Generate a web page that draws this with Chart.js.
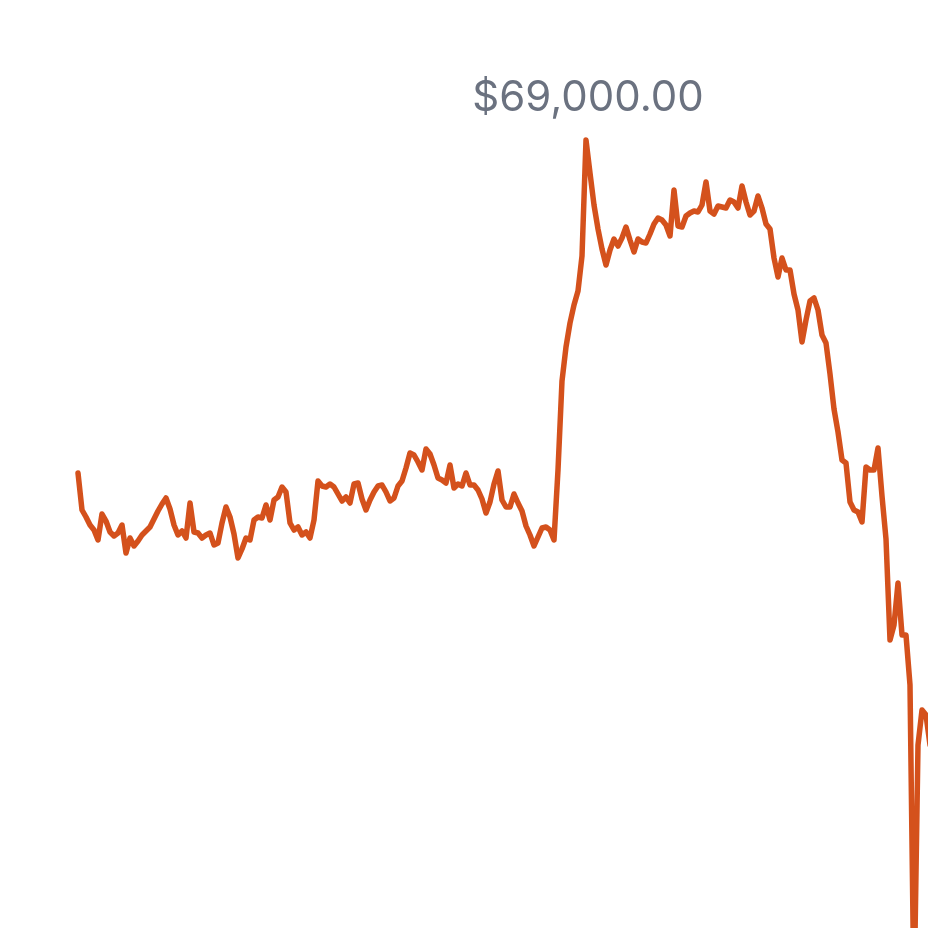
<!DOCTYPE html>
<html>
<head>
<meta charset="utf-8">
<script src="https://cdn.jsdelivr.net/npm/chart.js@4"></script>
<style>
  html, body { margin: 0; padding: 0; background: #fff; }
  #kutu { width: 928px; height: 928px; }
</style>
</head>
<body>
<div id="kutu"><canvas id="fiyatGrafik"></canvas></div>
<script>
// ============================================
// DATA — daily closing price (USD)
// ============================================
const PRICES = [
  49020, 46800, 46380, 45900, 45600, 45000, 46560, 46140, 45480, 45240,
  45420, 45900, 44220, 45120, 44640, 44940, 45300, 45540, 45780, 46260,
  46740, 47160, 47520, 46860, 45900, 45300, 45540, 45120, 47220, 45480,
  45420, 45120, 45300, 45420, 44700, 44820, 46020, 46980, 46380, 45360,
  43920, 44460, 45120, 45000, 46200, 46380, 46320, 47100, 46200, 47400,
  47580, 48180, 47880, 46020, 45600, 45780, 45300, 45480, 45120, 46200,
  48540, 48240, 48180, 48360, 48180, 47760, 47340, 47580, 47220, 48360,
  48420, 47460, 46800, 47400, 47880, 48240, 48300, 47880, 47340, 47520,
  48240, 48540, 49320, 50220, 50100, 49680, 49200, 50460, 50160, 49500,
  48720, 48600, 48420, 49500, 48120, 48360, 48240, 49020, 48300, 48300,
  48000, 47460, 46620, 47280, 48360, 49140, 47400, 46980, 46980, 47760,
  47220, 46740, 45840, 45300, 44640, 45180, 45720, 45780, 45600, 45000,
  49200, 54540, 56580, 58020, 59100, 59940, 62040, 69000, 67020, 65100,
  63660, 62460, 61500, 62400, 63060, 62640, 63120, 63780, 63000, 62280,
  63060, 62880, 62820, 63360, 63960, 64320, 64200, 63900, 63240, 66000,
  63840, 63780, 64440, 64620, 64740, 64680, 65100, 66480, 64740, 64560,
  65040, 64980, 64920, 65400, 65280, 64920, 66240, 65280, 64500, 64740,
  65640, 64920, 63960, 63660, 61920, 60780, 61920, 61200, 61200, 59760,
  58800, 56880, 58200, 59340, 59520, 58800, 57300, 56820, 54960, 52860,
  51480, 49800, 49620, 47280, 46800, 46680, 46080, 49380, 49200, 49200,
  50520, 47640, 45060, 39000, 39900, 42420, 39300, 39300, 36300, 17400,
  32700, 34800, 34500, 32700, 31800
];

// visible window (index units / USD) — the series runs past the right and bottom edge
const X_MIN = -19.5, X_MAX = 212.5;
const Y_MIN = 21720, Y_MAX = 77400;

const CIZGI_RENK = "#d4511c";
const ETIKET_RENK = "#6b7280";

const usd = new Intl.NumberFormat("en-US", { style: "currency", currency: "USD" });

// ============================================
// PEAK LABEL — value written above the highest point
// ============================================
const zirveEtiketi = {
  id: "zirveEtiketi",
  afterDatasetsDraw(chart) {
    const veri = chart.data.datasets[0].data;
    let iMax = 0;
    veri.forEach((p, i) => { if (p.y > veri[iMax].y) iMax = i; });
    const nokta = chart.getDatasetMeta(0).data[iMax];
    const ctx = chart.ctx;
    ctx.save();
    ctx.font = "400 42px Inter, 'Noto Sans', sans-serif";
    ctx.fillStyle = ETIKET_RENK;
    ctx.textAlign = "center";
    ctx.textBaseline = "alphabetic";
    ctx.fillText(usd.format(veri[iMax].y), nokta.x + 2, nokta.y - 29);
    ctx.restore();
  }
};

// ============================================
// CHART
// ============================================
new Chart(document.getElementById("fiyatGrafik"), {
  type: "line",
  data: {
    datasets: [{
      data: PRICES.map((v, i) => ({ x: i, y: v })),
      borderColor: CIZGI_RENK,
      borderWidth: 5.5,
      tension: 0,
      pointRadius: 0,
      borderJoinStyle: "round",
      borderCapStyle: "round",
      fill: false,
    }]
  },
  options: {
    responsive: true,
    maintainAspectRatio: false,
    animation: false,
    layout: { padding: 0 },
    plugins: { legend: { display: false }, tooltip: { enabled: false } },
    scales: {
      x: { type: "linear", display: false, min: X_MIN, max: X_MAX },
      y: { display: false, min: Y_MIN, max: Y_MAX }
    }
  },
  plugins: [zirveEtiketi]
});
</script>
</body>
</html>
